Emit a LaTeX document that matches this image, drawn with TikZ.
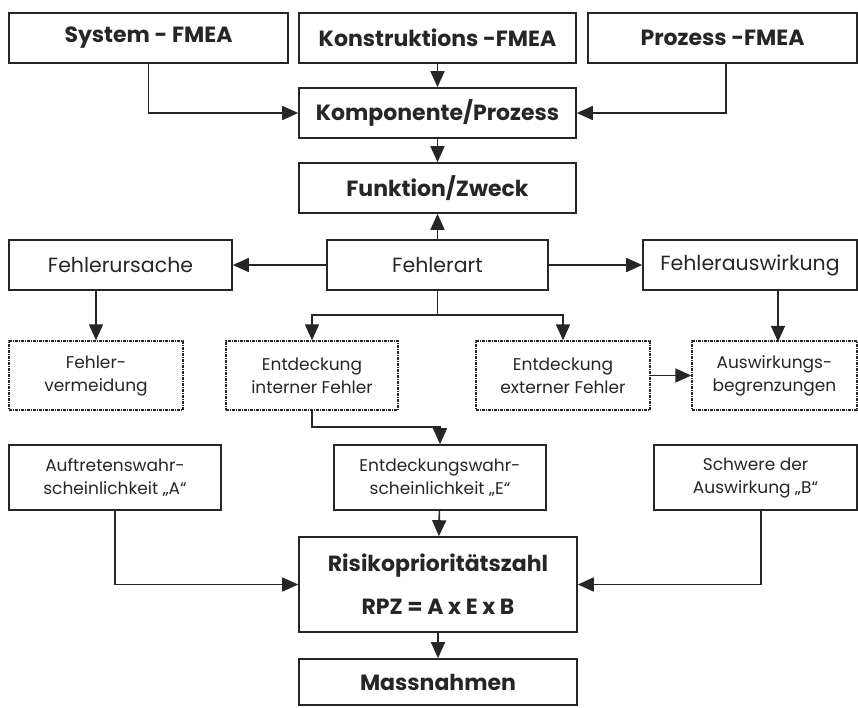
\documentclass[tikz,border=0pt]{standalone}
\usepackage{fontspec}
\setmainfont{Poppins}
\usetikzlibrary{arrows.meta,positioning}

\begin{document}
\begin{tikzpicture}[x=1pt,y=-1pt,line width=1.6pt,draw=black!85,
  box/.style={draw,rectangle,inner sep=0pt,align=center,text=black!85},
  bigbox/.style={box,font=\fontsize{22}{26}\selectfont\bfseries},
  midbox/.style={box,font=\fontsize{20.5}{24}\selectfont,minimum height=50pt},
  smallbox/.style={box,font=\fontsize{17}{23}\selectfont},
  dotbox/.style={smallbox,dash pattern=on 3pt off 1pt on 1pt off 1pt,line width=1.4pt,minimum height=69pt},
  pfeil/.style={-{Triangle[length=16pt,width=14pt]}}]

\useasboundingbox (0,0) rectangle (858,707);

\node[bigbox,minimum width=279pt,minimum height=50pt] (sys)  at (148.5,38) {System - FMEA};
\node[bigbox,minimum width=277pt,minimum height=50pt] (kon)  at (437.5,38) {Konstruktions -FMEA};
\node[bigbox,minimum width=269pt,minimum height=50pt] (proz) at (722.5,38) {Prozess -FMEA};

\node[bigbox,minimum width=277pt,minimum height=50pt] (komp) at (437.5,113) {Komponente/Prozess};
\node[bigbox,minimum width=277pt,minimum height=50pt] (funk) at (437.5,188) {Funktion/Zweck};

\node[midbox,minimum width=221pt] (art)  at (437.5,265) {Fehlerart};
\node[midbox,minimum width=223pt] (urs)  at (120.5,265) {Fehlerursache};
\node[midbox,minimum width=214pt] (ausw) at (750,265)   {Fehlerauswirkung};

\node[dotbox,minimum width=174pt] (verm)   at (96,375.5)  {Fehler-\\vermeidung};
\node[dotbox,minimum width=172pt] (intern) at (312,375.5) {Entdeckung\\interner Fehler};
\node[dotbox,minimum width=174pt] (extern) at (563,375.5) {Entdeckung\\externer Fehler};
\node[dotbox,minimum width=165pt] (begr)   at (774.5,375.5) {Auswirkungs-\\begrenzungen};

\node[smallbox,minimum width=212pt,minimum height=65pt] (auftr) at (115,477.5)   {Auftretenswahr-\\scheinlichkeit „A“};
\node[smallbox,minimum width=212pt,minimum height=65pt] (entw)  at (440,477.5)   {Entdeckungswahr-\\scheinlichkeit „E“};
\node[smallbox,minimum width=203pt,minimum height=65pt] (schw)  at (755.5,477.5) {Schwere der\\Auswirkung „B“};

\node[bigbox,minimum width=278pt,minimum height=95pt,font=\fontsize{22}{43}\selectfont\bfseries] (rpz) at (438,584.5) {Risikoprioritätszahl\\RPZ = A x E x B};
\node[bigbox,minimum width=278pt,minimum height=46pt] (mass) at (438,682) {Massnahmen};

\coordinate (split) at (437.5,315);
\coordinate (knick) at (440,427);

\foreach \f/\t in {% von/nach
  kon/komp,
  komp/funk,
  art/funk,
  art/urs,
  art/ausw,
  extern/begr,
  entw/rpz,
  rpz/mass}
  \draw[pfeil] (\f) -- (\t);

\draw[pfeil] (sys) |- (komp);
\draw[pfeil] (proz.south -| 726,0) |- (komp);
\draw[pfeil] (urs.south -| verm) -- (verm);
\draw[pfeil] (ausw.south -| begr.north) ++(3.5,0) -- ++(0,51);
\draw (art) -- (split);
\draw[pfeil] (split) -| (intern);
\draw[pfeil] (split) -| (extern);
\draw[pfeil] (intern) |- (knick) -- (entw);
\draw[pfeil] (auftr) |- (rpz);
\draw[pfeil] (schw.south -| 761,0) |- (rpz);

\end{tikzpicture}
\end{document}
